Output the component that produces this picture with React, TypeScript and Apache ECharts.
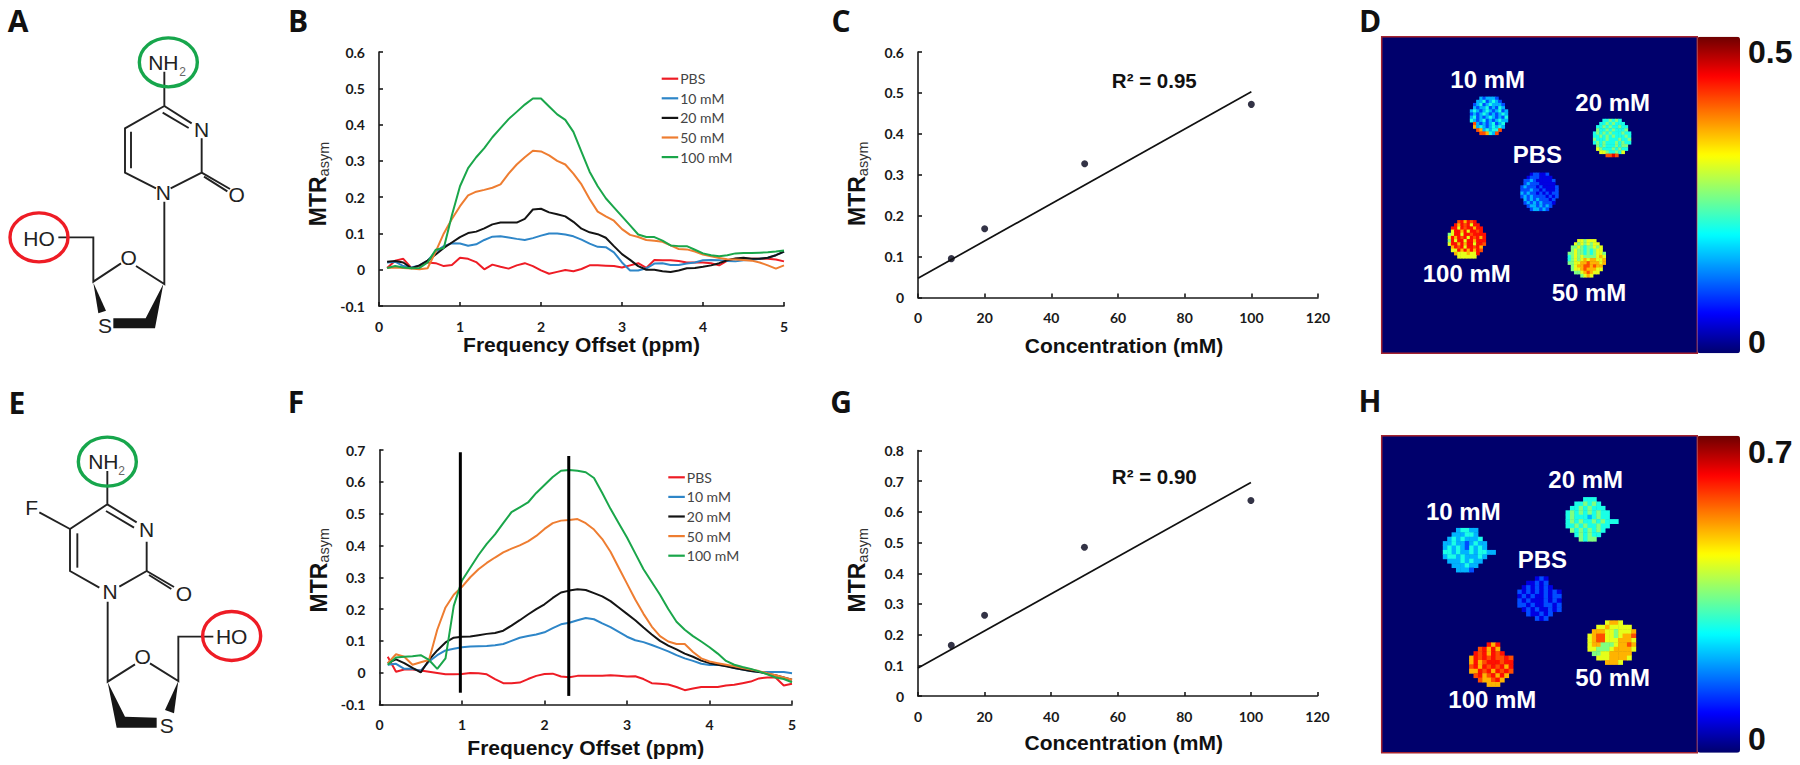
import React, { useEffect, useRef } from "react";
import * as echarts from "echarts";

// ---------- data ----------
const ppmOffsets = [0.1,0.2,0.3,0.4,0.5,0.6,0.7,0.8,0.9,1.0,1.1,1.2,1.3,1.4,1.5,1.6,1.7,1.8,1.9,2.0,2.1,2.2,2.3,2.4,2.5,2.6,2.7,2.8,2.9,3.0,3.1,3.2,3.3,3.4,3.5,3.6,3.7,3.8,3.9,4.0,4.1,4.2,4.3,4.4,4.5,4.6,4.7,4.8,4.9,5.0];
const seriesNames = ["PBS", "10 mM", "20 mM", "50 mM", "100 mM"];

const bPBS = [.005,.025,.03,.005,.01,.02,.018,.01,.013,.033,.03,.021,.001,.014,.008,.003,.012,.018,.01,-.002,-.011,-.006,-.001,-.004,.002,.012,.012,.011,.01,.006,.012,.018,.005,.027,.026,.026,.024,.02,.02,.02,.018,.012,.025,.03,.03,.03,.03,.03,.028,.023];
const b10 = [.02,.022,.01,.006,.012,.025,.05,.065,.073,.072,.066,.07,.082,.091,.092,.089,.085,.082,.087,.094,.1,.1,.097,.092,.083,.072,.063,.062,.048,.02,-.002,-.002,.004,.017,.018,.013,.013,.017,.02,.026,.027,.026,.024,.023,.026,.027,.03,.033,.04,.05];
const b20 = [.022,.024,.02,.004,.012,.025,.042,.06,.075,.09,.101,.105,.114,.125,.13,.13,.13,.14,.166,.168,.158,.153,.147,.132,.113,.103,.098,.088,.065,.043,.027,.01,0,0,-.004,-.006,-.002,.004,.005,.008,.012,.018,.026,.031,.033,.03,.03,.033,.04,.05];
const b50 = [.005,.006,.005,.003,.001,.004,.05,.1,.14,.175,.205,.215,.22,.226,.235,.265,.29,.31,.328,.326,.315,.3,.29,.265,.235,.195,.16,.147,.135,.112,.096,.09,.082,.08,.077,.067,.057,.056,.05,.042,.037,.032,.029,.028,.027,.025,.02,.012,.003,.012];
const b100 = [.005,.01,.006,.004,.005,.02,.055,.06,.15,.23,.28,.31,.335,.365,.39,.415,.435,.455,.472,.472,.45,.428,.413,.38,.325,.27,.23,.197,.172,.147,.122,.097,.09,.09,.08,.067,.065,.065,.055,.045,.04,.037,.04,.045,.046,.046,.047,.048,.05,.053];

const fPBS = [.05,.003,.01,.01,.007,.003,-.001,-.005,-.005,-.004,-.001,-.002,-.005,-.02,-.033,-.033,-.031,-.02,-.01,-.004,-.003,-.012,-.014,-.01,-.01,-.01,-.01,-.008,-.01,-.012,-.011,-.02,-.033,-.035,-.037,-.045,-.055,-.05,-.045,-.045,-.045,-.04,-.038,-.033,-.028,-.018,-.015,-.015,-.04,-.035];
const f10 = [.025,.028,.012,.012,.006,.035,.055,.07,.075,.08,.082,.083,.084,.086,.09,.1,.11,.115,.12,.127,.14,.152,.157,.165,.172,.168,.155,.143,.128,.113,.102,.096,.087,.077,.067,.055,.045,.037,.028,.024,.025,.022,.015,.01,.005,.002,.002,.002,.002,-.002];
const f20 = [.03,.042,.03,.015,.001,.04,.07,.095,.11,.113,.114,.118,.122,.125,.132,.148,.165,.183,.2,.215,.235,.252,.258,.262,.26,.25,.24,.225,.205,.185,.165,.142,.12,.1,.085,.073,.06,.05,.038,.03,.025,.02,.015,.01,.005,.002,-.003,-.008,-.015,-.022];
const f50 = [.03,.058,.05,.025,.033,.04,.135,.205,.245,.27,.3,.325,.345,.362,.378,.39,.4,.413,.43,.452,.47,.478,.48,.483,.47,.45,.42,.38,.33,.28,.23,.185,.145,.115,.098,.09,.09,.065,.045,.035,.03,.025,.02,.015,.01,.005,-.002,-.008,-.015,-.022];
const f100 = [.025,.048,.05,.052,.055,.04,.012,.045,.21,.29,.33,.37,.405,.435,.47,.505,.52,.535,.565,.59,.615,.635,.637,.635,.63,.612,.565,.515,.47,.425,.375,.325,.285,.245,.2,.16,.135,.115,.098,.08,.06,.037,.025,.018,.012,.004,-.005,-.015,-.02,-.03];

const fMarkers = [
  [[0.98, 0.693], [0.98, -0.063]],
  [[2.294, 0.681], [2.294, -0.073]],
];

const concentrations = [10, 20, 50, 100];
const cPoints = [.095, .168, .327, .472];
const cTrend = [[0, .047], [100, .503]];
const gPoints = [.165, .263, .485, .637];
const gTrend = [[0, .091], [100, .696]];

// map levels: digit = tenth of the colour-bar range, r = 8.6 tenths, "." = outside the spot
const d10 = ["...323332...","..33423432..",".2342343332.",".3233423243.","343234323423","232343232343","342323432324","432342323433",".8323234234.",".7343234343.","..87343448..","...887438..."];
const d20 = ["...445454...","..44545444..",".4454544544.",".5445454445.","454545444544","445454544454","544454445445","454544454544",".5454445455.",".6544454544.","..66544546..","....8898...."];
const dPBS = ["...122112...","..12221111..",".2232111112.",".2322211111.","232221211112","222322121112","323221212122","232322221212",".3232322212.",".2323232221.","..23323232..","...233232..."];
const d100 = ["...8r7r8r...","..r7r8r6rr..",".rr6r8rr7rr.",".6rr7r6rr8r.","56rr6rr8rrrr","6r7r8r6r8r7r","5r6rr6rr7rrr","6rr7r7rr6rr8",".7r8r6rr8r7.",".66r7r7r7r8.","..7666766r..","...666666..."];
const d50 = ["...665666...","..65656566..",".5565455656.",".5655454566.","556554545665","456565555676","456567677667","556677877767",".5677887877.",".5667877766.","..55678766..","....5676...."];
const dSpots = [d10, d20, dPBS, d100, d50];
const dStart = [[28,19],[67,26],[44,43],[21,58],[59,64]];

const h10 = ["...34433....","..333443....",".34343334...","3343323433..","3434324343..","443433434433","3443433343..",".33343433...","..333433....","...3332....."];
const h20 = ["....444.....","..445454....",".44545444...","4545454544..","4544434544..","454544545444","4454544544..",".54545454...","..454544....","...5455....."];
const hPBS = ["....121.....","..11212.....",".1212121....","2121212121..","1212112122..","2121112121..","2212112212..",".121211212..","..211212....","....212....."];
const h50 = ["....6776....","..66766666..",".7776656667.","67886656778.","67886667776.","67755567787.","66555677776.",".556677777..","..66677776..","....7776...."];
const h100 = ["....r7r.....","..8r7r7.....",".r8r7r8r....","7r8r8r88r8..","7r78rrr8rr..","8r7r8r8r7r..","77r8r7r8r8..",".8r78r7r7...","..8778r7....","....777....."];
const hSpots = [h10, h20, hPBS, h50, h100];
const hStart = [[14,21],[42,14],[31,32],[47,42],[20,47]];

const maps = [
  { spots: dSpots, starts: dStart, n: 100, max: 0.5 },
  { spots: hSpots, starts: hStart, n: 72, max: 0.7 },
];

const jetColours = ["#00006c","#0000ff","#0080ff","#00ffff","#80ff80","#ffff00","#ff8000","#ff0000","#6e0000"];
const lineColours = ["#ee1c25","#2e86c8","#141414","#ee7d31","#1aa64a"];

// ---------- drawing ----------
const LABEL = { fontFamily: "Lato", fontWeight: "bold" as const, fontSize: 14, color: "#1a1a1a" };
const AX = { lineStyle: { color: "#1a1a1a", width: 1.6 } };
const TITLE = "Liberation Sans";

const yNameRich = {
  m: { fontFamily: TITLE, fontSize: 23, fontWeight: "bold", color: "#111", lineHeight: 26 },
  s: { fontFamily: TITLE, fontSize: 14.5, color: "#333", verticalAlign: "bottom", lineHeight: 26, padding: [10, 0, 0, 0] },
};

function valueAxes(o: any) {
  const x = {
    type: "value", gridIndex: o.g, min: o.xMin, max: o.xMax, interval: o.xInt, splitLine: { show: false },
    axisLine: { show: true, onZero: false, ...AX }, axisTick: { show: true, inside: true, length: 4, ...AX },
    axisLabel: { ...LABEL, margin: 13 }, name: o.xName, nameLocation: "middle", nameGap: o.xGap,
    nameTextStyle: { fontFamily: TITLE, fontWeight: "bold", fontSize: o.xSize, color: "#111", padding: o.xPad },
  };
  const y = {
    type: "value", gridIndex: o.g, min: o.yMin, max: o.yMax, interval: o.yInt, splitLine: { show: false },
    axisLine: { show: true, onZero: false, ...AX }, axisTick: { show: true, inside: true, length: 4, ...AX },
    axisLabel: { ...LABEL, margin: 14 }, name: "{m|MTR}{s|asym}", nameLocation: "middle", nameGap: o.yGap, nameRotate: 90,
    nameTextStyle: { fontSize: 23, fontFamily: TITLE, rich: yNameRich, padding: o.yPad },
  };
  return { x, y };
}

const text = (t: string, x: number, y: number, font: string, fill = "#111", align = "center") => ({
  type: "text", x, y, z: 100,
  style: { text: t, font, fill, textAlign: align, textVerticalAlign: "middle", align, verticalAlign: "middle" },
});

// molecule sketches, measured in a 1/3-scale drawing space
function molecule(ox: number, oy: number, m: any) {
  const s = (p: number[]) => [ox + p[0] / 3, oy + p[1] / 3];
  const out: any[] = [];
  m.lines.forEach((pts: number[][]) => out.push({ type: "polyline", z: 95, shape: { points: pts.map(s) }, style: { stroke: "#222", lineWidth: 1.9, fill: "none" } }));
  m.solids.forEach((pts: number[][]) => out.push({ type: "polygon", z: 95, shape: { points: pts.map(s) }, style: { fill: "#161616" } }));
  m.rings.forEach((r: any) => {
    const [cx, cy] = s([r[0], r[1]]);
    out.push({ type: "ellipse", z: 96, shape: { cx, cy, rx: 29, ry: 24.5 }, style: { stroke: r[2], lineWidth: 3.4, fill: "none" } });
  });
  m.labels.forEach((l: any) => {
    const [x, y] = s([l[1], l[2]]);
    out.push(text(l[0], x, y, `${l[3] || 21}px "Liberation Sans"`, l[4] || "#222"));
  });
  return out;
}

const moleculeA = {
  lines: [
    [[493,215],[493,318],[375,385],[375,518],[468,565]],
    [[493,318],[575,370]], [[488,338],[566,384]], [[393,395],[393,505]],
    [[605,415],[605,518],[512,565]], [[605,518],[690,567]], [[612,530],[682,574]],
    [[493,605],[493,852],[408,798]], [[363,790],[280,845],[280,712],[175,712]],
  ],
  solids: [
    [[280,848],[295,940],[318,932]],
    [[490,852],[437,955],[340,955],[340,985],[465,985]],
  ],
  rings: [[505,187,"#17a64c"],[117,712,"#ee1c25"]],
  labels: [["NH",490,188,21],["2",548,217,12,"#666"],["N",605,388],["N",490,578],["O",710,582],["O",386,773],["S",315,975],["HO",117,715]],
};
const moleculeE = {
  lines: [
    [[322,258],[322,358],[210,432],[210,558],[298,608]],
    [[322,358],[410,412]], [[318,378],[402,428]], [[232,445],[232,548]],
    [[440,470],[440,558],[358,605]], [[440,558],[522,606]], [[447,570],[514,612]],
    [[210,432],[118,382]],
    [[323,650],[323,890],[405,838]], [[450,835],[535,888],[535,755],[640,755]],
  ],
  solids: [
    [[535,888],[495,975],[522,985]],
    [[323,892],[350,1028],[470,1028],[470,998],[375,995]],
  ],
  rings: [[322,230,"#17a64c"],[695,753,"#ee1c25"]],
  labels: [["NH",310,228,21],["2",365,258,12,"#666"],["F",95,368],["N",440,432],["N",330,620],["O",552,625],["O",428,815],["S",500,1020],["HO",695,755]],
};

function buildOption() {
  const grids = [
    { left: 379, top: 52, width: 405, height: 254 },
    { left: 918, top: 52, width: 400, height: 245.5 },
    { left: 379.5, top: 450, width: 412.5, height: 254.5 },
    { left: 918, top: 450.5, width: 399.5, height: 245.5 },
    { left: 1381.7, top: 36.7, width: 315.6, height: 316.6, show: true, backgroundColor: "#00006c", borderColor: "#a3232f", borderWidth: 1.5 },
    { left: 1381.7, top: 435.7, width: 315.6, height: 317, show: true, backgroundColor: "#00006c", borderColor: "#a3232f", borderWidth: 1.5 },
  ];
  const axes = [
    valueAxes({ g: 0, xMin: 0, xMax: 5, xInt: 1, yMin: -0.1, yMax: 0.6, yInt: 0.1, xName: "Frequency Offset (ppm)", xGap: 28, xSize: 21, yGap: 48, yPad: [0, 10, 0, 0] }),
    valueAxes({ g: 1, xMin: 0, xMax: 120, xInt: 20, yMin: 0, yMax: 0.6, yInt: 0.1, xName: "Concentration (mM)", xGap: 37, xSize: 21, xPad: [0, 0, 0, 12], yGap: 48, yPad: [0, 18, 0, 0] }),
    valueAxes({ g: 2, xMin: 0, xMax: 5, xInt: 1, yMin: -0.1, yMax: 0.7, yInt: 0.1, xName: "Frequency Offset (ppm)", xGap: 32, xSize: 21, yGap: 48, yPad: [0, 0, 0, 14] }),
    valueAxes({ g: 3, xMin: 0, xMax: 120, xInt: 20, yMin: 0, yMax: 0.8, yInt: 0.1, xName: "Concentration (mM)", xGap: 36, xSize: 21, xPad: [0, 0, 0, 12], yGap: 48, yPad: [0, 0, 0, 6] }),
  ];
  const xAxis: any[] = axes.map((a) => a.x);
  const yAxis: any[] = axes.map((a) => a.y);
  maps.forEach((m, i) => {
    const cats = Array.from({ length: m.n }, (_, k) => k);
    xAxis.push({ type: "category", gridIndex: 4 + i, data: cats, show: false });
    yAxis.push({ type: "category", gridIndex: 4 + i, data: cats, show: false, inverse: true });
  });

  const lines = (axis: number, sets: number[][]) =>
    sets.map((vals, i) => ({
      type: "line", name: seriesNames[i], xAxisIndex: axis, yAxisIndex: axis, symbol: "none", silent: true,
      data: vals.map((v, k) => [ppmOffsets[k], v]), lineStyle: { color: lineColours[i], width: 2 }, itemStyle: { color: lineColours[i] },
    }));
  const trend = (axis: number, pts: number[], tr: number[][]) => [
    { type: "line", name: "fit", xAxisIndex: axis, yAxisIndex: axis, symbol: "none", data: tr, lineStyle: { color: "#111", width: 1.7 } },
    { type: "scatter", name: "points", xAxisIndex: axis, yAxisIndex: axis, symbolSize: 7, data: pts.map((v, k) => [concentrations[k], v]), itemStyle: { color: "#000018" } },
  ];

  const series: any[] = [
    ...lines(0, [bPBS, b10, b20, b50, b100]),
    ...trend(1, cPoints, cTrend),
    ...lines(2, [fPBS, f10, f20, f50, f100]),
    ...fMarkers.map((d, i) => ({ type: "line", name: `marker ${i}`, xAxisIndex: 2, yAxisIndex: 2, symbol: "none", data: d, lineStyle: { color: "#000", width: 3 } })),
    ...trend(3, gPoints, gTrend),
  ];
  const vm: any[] = [];
  maps.forEach((m, i) => {
    const data: number[][] = [];
    m.spots.forEach((rows, s) => rows.forEach((row, r) => row.split("").forEach((c, k) => {
      if (c !== ".") data.push([m.starts[s][0] + k, m.starts[s][1] + r, ((c === "r" ? 8.6 : +c) / 10) * m.max]);
    })));
    vm.push({
      type: "continuous", seriesIndex: series.length, min: 0, max: m.max, orient: "vertical", show: true, calculable: false,
      left: 1697.3, top: i === 0 ? 36.7 : 435.7, itemWidth: 42.7, itemHeight: i === 0 ? 316.6 : 317, padding: 0, hoverLink: false,
      inRange: { color: jetColours }, textStyle: { color: "transparent" },
    });
    series.push({ type: "heatmap", name: `map ${i}`, xAxisIndex: 4 + i, yAxisIndex: 4 + i, data, silent: true, itemStyle: { borderWidth: 0 }, progressive: 0 });
  });

  const leg = (left: number, top: number) => ({
    data: seriesNames, left, top, orient: "vertical", icon: "rect", itemWidth: 16.5, itemHeight: 2.2, itemGap: 5.6, padding: 0, selectedMode: false,
    textStyle: { fontFamily: "Lato", fontSize: 14, lineHeight: 14, color: "#444", padding: [0, 0, 0, -3] },
  });

  const letter = 'bold 30px "Open Sans"';
  const mapText = 'bold 24px "Liberation Sans"';
  const r2 = 'bold 20.5px "Liberation Sans"';
  const bar = 'bold 32px "Liberation Sans"';
  const graphic: any[] = [
    text("A", 18, 20, letter), text("B", 298, 20, letter), text("C", 841, 20, letter), text("D", 1370, 20, letter),
    text("E", 17, 402, letter), text("F", 296, 401, letter), text("G", 841, 401, letter), text("H", 1370, 400, letter),
    text("R² = 0.95", 1154.3, 80, r2), text("R² = 0.90", 1154.3, 476, r2),
    text("10 mM", 1487.7, 79, mapText, "#fff"), text("20 mM", 1612.7, 102, mapText, "#fff"), text("PBS", 1537.3, 154.3, mapText, "#fff"),
    text("100 mM", 1466.7, 273.3, mapText, "#fff"), text("50 mM", 1589, 292.7, mapText, "#fff"),
    text("20 mM", 1585.7, 479, mapText, "#fff"), text("10 mM", 1463.3, 511.7, mapText, "#fff"), text("PBS", 1542.3, 559.3, mapText, "#fff"),
    text("50 mM", 1612.7, 677.7, mapText, "#fff"), text("100 mM", 1492.3, 699.3, mapText, "#fff"),
    text("0.5", 1748, 52, bar, "#111", "left"), text("0", 1748, 341.7, bar, "#111", "left"),
    text("0.7", 1748, 452, bar, "#111", "left"), text("0", 1748, 739, bar, "#111", "left"),
    ...molecule(0, 0, moleculeA),
    ...molecule(0, 385, moleculeE),
  ];

  return {
    animation: false, backgroundColor: "#fff", grid: grids, xAxis, yAxis, series, visualMap: vm,
    legend: [leg(661.7, 71.7), leg(668.3, 470.3)], graphic,
  };
}

export default function App() {
  const ref = useRef<HTMLDivElement>(null);
  useEffect(() => {
    document.body.style.margin = "0";
    const chart = echarts.init(ref.current!, undefined, { renderer: "svg" });
    chart.setOption(buildOption() as any);
    return () => chart.dispose();
  }, []);
  return <div ref={ref} style={{ position: "absolute", left: 0, top: 0, width: 1800, height: 765 }} />;
}
